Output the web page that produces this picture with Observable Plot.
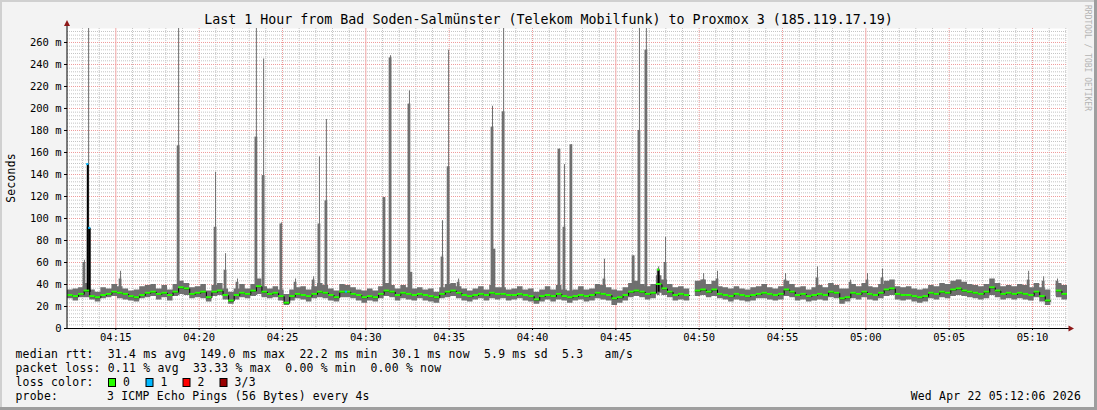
<!DOCTYPE html>
<html><head><meta charset="utf-8">
<script src="https://cdn.jsdelivr.net/npm/d3@7"></script>
<script src="https://cdn.jsdelivr.net/npm/@observablehq/plot@0.6"></script>
<style>
html,body{margin:0;padding:0;background:#f3f3f3;}
#chart{position:relative;width:1097px;height:410px;overflow:hidden;}
#chart svg{display:block;max-width:none;}
</style></head><body><div id="chart"></div>
<script>
// ---------------- data ----------------
const title = "Last 1 Hour from Bad Soden-Salmünster (Telekom Mobilfunk) to Proxmox 3 (185.119.17.19)";
const startTime = "04:12:06";
const endTime = "05:12:06";
const stepSeconds = 20;

const median = [
30,29,31,34,29,28,30,31,33,32,
31,29,28,30,32,33,31,32,30,33,
37,36,31,32,33,28,33,34,30,25,
30,32,31,34,38,33,31,32,29,23,
29,31,30,29,31,33,32,30,28,33,
33,31,30,28,29,28,31,34,33,30,
32,31,30,31,30,29,28,31,33,34,
32,30,29,30,31,30,32,31,31,30,
30,31,30,29,26,29,30,29,31,29,
28,29,30,29,30,32,31,30,27,28,
30,33,34,33,31,32,40,36,33,30,
31,30,null,34,35,33,35,31,30,29,
31,30,29,30,31,32,31,30,31,35,
33,30,31,29,30,31,30,33,32,27,
28,32,31,33,31,30,32,35,36,31,
30,30,29,28,29,32,31,33,32,35,
36,34,33,32,31,33,37,34,31,32,
31,32,31,30,33,29,25,null,34,31];

const smokeLow = [
27,25,28,28,26,24,27,28,29,27,
26,25,24,27,28,29,26,28,25,29,
31,30,27,28,27,24,29,30,26,22,
26,28,27,29,31,28,27,28,25,21,
25,27,26,24,27,28,27,25,24,28,
28,27,25,23,25,24,27,29,28,25,
27,26,25,27,25,24,23,27,28,29,
27,25,24,26,27,25,27,26,27,25,
26,27,25,24,22,24,26,24,26,25,
23,25,26,24,25,27,26,25,21,23,
25,28,29,28,26,27,32,30,28,25,
26,25,null,29,30,28,29,27,26,24,
26,25,24,25,27,27,26,25,26,29,
28,25,26,24,25,26,25,28,27,22,
24,27,26,28,26,25,27,29,30,26,
25,26,24,23,24,27,26,28,27,29,
30,29,28,27,26,27,30,28,26,27,
26,27,26,25,28,24,21,null,28,26];

const smokeHigh = [
35,36,37,41,35,33,37,36,40,38,
36,34,35,38,39,40,36,39,35,40,
43,41,37,38,40,34,39,41,36,33,
36,40,36,40,45,38,36,38,35,31,
35,37,38,35,38,41,39,36,34,40,
39,37,35,34,36,34,38,41,39,36,
39,37,36,37,35,36,33,37,40,41,
38,36,34,36,38,35,39,37,37,35,
36,38,35,36,33,35,38,35,39,35,
34,35,38,35,36,40,39,37,35,34,
37,41,43,40,38,40,48,44,40,37,
38,36,null,43,44,40,43,38,37,36,
38,36,35,37,38,40,37,36,38,43,
40,37,38,35,37,39,37,41,39,36,
36,40,38,41,38,37,40,43,44,38,
37,38,36,35,36,39,38,41,40,43,
44,42,40,39,38,40,45,41,38,39,
38,40,39,37,41,37,35,null,41,39];

// single-ping outliers: time, highest ping, second ping
const spikeTimes = ["04:13:07","04:13:22","04:15:17","04:18:46","04:20:59","04:21:35","04:22:18","04:23:26","04:23:52","04:24:56",
"04:25:47","04:26:52","04:27:13","04:27:38","04:31:07","04:31:29","04:32:37","04:32:44","04:34:36","04:34:58",
"04:35:34","04:37:36","04:37:43","04:38:16","04:41:37","04:41:55","04:42:20","04:44:19","04:46:04","04:46:25",
"04:46:50","04:47:34","04:47:59","04:50:16","04:51:06","04:55:11","04:57:06","04:59:05","05:00:06","05:01:00",
"05:09:46","05:10:40","05:11:30"];
const spikeTop = [62,280,52,280,142,68,45,280,245,96, 45,47,156,190,119,248,216,51,98,253, 45,202,72,280,163,149,167,63,66,280, 280,56,83,50,52,50,56,44,50,54, 52,47,45];
const spikeSecond = [60,92,45,166,92,53,42,174,139,95, 42,44,95,116,119,246,204,51,65,147, 42,183,72,197,163,92,167,45,66,180, 253,54,60,44,45,44,46,42,44,46, 44,43,43];

// median excursions and their loss count
const peakTimes = ["04:13:19","04:13:26","04:28:50","04:47:34"];
const peakValues = [149,91,33,53];
const peakLoss = [1,1,1,0];

const xTickLabels = ["04:15","04:20","04:25","04:30","04:35","04:40","04:45","04:50","04:55","05:00","05:05","05:10"];
const yTickValues = [0,20,40,60,80,100,120,140,160,180,200,220,240,260];
const yMax = 272.7;

const lossLabels = ["0","1","2","3/3"];
const lossColors = ["#26ff00","#00b8ff","#ff0000","#990000"];
const rttLabel = "median rtt:";
const rttStats = ["31.4 ms avg","149.0 ms max","22.2 ms min","30.1 ms now","5.9 ms sd","5.3"];
const rttUnit = "am/s";
const lossLabel = "packet loss:";
const lossStats = ["0.11 % avg","33.33 % max","0.00 % min","0.00 % now"];
const colorLabel = "loss color:";
const probeLabel = "probe:";
const probeText = "3 ICMP Echo Pings (56 Bytes) every 4s";
const dateText = "Wed Apr 22 05:12:06 2026";
const yLabel = "Seconds";
const watermark = "RRDTOOL / TOBI OETIKER";

// ---------------- build ----------------
const parseT = s => { const [h,m,sec] = s.split(":").map(Number); return new Date(Date.UTC(2026,3,22,h,m,sec||0)); };
const T0 = parseT(startTime), T1 = parseT(endTime);
const sec = (d, s) => new Date(+d + s*1000);

const rows = median.map((m,i) => ({t0: sec(T0, i*stepSeconds), t1: sec(T0, (i+1)*stepSeconds), m, lo: smokeLow[i], hi: smokeHigh[i]}));
const smokePts = rows.flatMap(d => d.lo == null ? [{t: d.t0, lo: NaN, hi: NaN}] : [{t: d.t0, lo: d.lo, hi: d.hi}, {t: d.t1, lo: d.lo, hi: d.hi}]);
const medPts = rows.flatMap(d => d.m == null ? [{t: d.t0, m: NaN}] : [{t: d.t0, m: d.m}, {t: d.t1, m: d.m}]);
const spikes = spikeTimes.map((s,i) => ({t: parseT(s), top: spikeTop[i], second: spikeSecond[i]}));
const peaks = peakTimes.map((s,i) => ({t: parseT(s), v: peakValues[i], loss: peakLoss[i]}));

const xTicks = xTickLabels.map(parseT);
const minuteGrid = d3.utcMinute.range(d3.utcMinute.ceil(T0), T1).filter(d => d.getUTCMinutes() % 5 !== 0);
const fiveGrid = d3.utcMinute.every(5).range(d3.utcMinute.ceil(T0), T1).filter(d => d.getUTCMinutes() % 15 !== 0);
const quarterGrid = d3.utcMinute.every(15).range(d3.utcMinute.ceil(T0), T1);
const yMinor = d3.range(0, yMax, 20/6).filter(v => Math.abs(v/20 - Math.round(v/20)) > 0.01);
const yMajor = yTickValues.filter(v => v > 0);

const GREY = "#6f6f6f";
const FONT = "DejaVu Sans Mono";

const chart = Plot.plot({
  width: 1097, height: 410,
  marginLeft: 67, marginRight: 30, marginTop: 28, marginBottom: 82,
  style: {background: "#f3f3f3", fontFamily: FONT, fontSize: "10.5px", color: "#000", overflow: "visible"},
  x: {type: "utc", domain: [T0, T1]},
  y: {domain: [0, yMax]},
  marks: [
    Plot.frame({fill: "#ffffff", stroke: null}),
    Plot.ruleX(minuteGrid, {stroke: "#c4c4c4", strokeDasharray: "1,1"}),
    Plot.ruleY(yMinor, {stroke: "#c4c4c4", strokeDasharray: "1,1"}),
    Plot.ruleX(fiveGrid, {stroke: "#ee9a9a", strokeDasharray: "1,1"}),
    Plot.ruleX(quarterGrid, {stroke: "#f2a6a6"}),
    Plot.ruleY(yMajor, {stroke: "#ee9a9a", strokeDasharray: "1,1"}),
    Plot.areaY(smokePts, {x: "t", y1: "lo", y2: "hi", fill: GREY, clip: true}),
    Plot.ruleX(spikes, {x: "t", y1: 30, y2: "top", stroke: GREY, strokeWidth: 1, clip: true}),
    Plot.rect(spikes, {x1: d => sec(d.t, -5), x2: d => sec(d.t, 5), y1: 30, y2: "second", fill: GREY, clip: true}),
    Plot.line(medPts, {x: "t", y: "m", stroke: "#000", strokeWidth: 1, clip: true}),
    Plot.ruleX(peaks, {x: "t", y1: 33, y2: "v", stroke: "#000", strokeWidth: 2, clip: true}),
    Plot.rect(rows.filter(d => d.m != null), {x1: "t0", x2: "t1", y1: d => d.m - 0.9, y2: d => d.m + 0.9, fill: lossColors[0], clip: true}),
    Plot.rect(peaks, {x1: d => sec(d.t, -4), x2: d => sec(d.t, 4), y1: d => d.v - 0.9, y2: d => d.v + 0.9, fill: d => lossColors[d.loss], clip: true}),
    Plot.axisY(yTickValues, {tickFormat: d => d === 0 ? "0" : d + " m", tickSize: 3, tickPadding: 3, label: null, fontSize: 10.5, fill: "#000"}),
    Plot.axisX(xTicks, {tickFormat: d3.utcFormat("%H:%M"), tickSize: 2, tickPadding: 3, label: null, fontSize: 10.5, fill: "#000"})
  ]
});
document.getElementById("chart").appendChild(chart);

// ---------------- decorations ----------------
const svg = d3.select(chart);
const xs = chart.scale("x"), ys = chart.scale("y");
const xL = xs.apply(T0), xR = xs.apply(T1), yB = ys.apply(0), yT = ys.apply(yMax);

// axes lines with arrows
svg.append("line").attr("x1", xL).attr("x2", xL).attr("y1", yT - 2).attr("y2", yB + 0.5).attr("stroke", "#000");
svg.append("line").attr("x1", xL - 0.5).attr("x2", xR + 2).attr("y1", yB + 0.5).attr("y2", yB + 0.5).attr("stroke", "#000");
svg.append("path").attr("d", `M${xL-3},${yT-2}L${xL+3},${yT-2}L${xL},${yT-8}Z`).attr("fill", "#8e1818");
svg.append("path").attr("d", `M${xR+1.5},${yB-2.5}L${xR+1.5},${yB+3.5}L${xR+7},${yB+0.5}Z`).attr("fill", "#8e1818");

// title
svg.append("text").attr("x", 548.5).attr("y", 24).attr("text-anchor", "middle")
  .attr("font-family", FONT).attr("font-size", "13.3px").attr("fill", "#000").text(title);

// legend font
const LG_SIZE = "11.4px", LG_SPACING = "0.24px";

// y label
svg.append("text").attr("transform", `translate(14.5,${(yT + yB) / 2}) rotate(-90)`).attr("text-anchor", "middle")
  .attr("font-family", FONT).attr("font-size", LG_SIZE).attr("letter-spacing", LG_SPACING).attr("fill", "#000").text(yLabel);

// watermark
svg.append("text").attr("transform", "translate(1085,5) rotate(90)").attr("text-anchor", "start")
  .attr("font-family", FONT).attr("font-size", "8px").attr("fill", "#b4b4b4").text(watermark);

// legend
const lg = svg.append("g").attr("font-family", FONT).attr("font-size", LG_SIZE).attr("letter-spacing", LG_SPACING).attr("fill", "#000");
const addText = (x, y, s, anchor) => lg.append("text").attr("x", x).attr("y", y).attr("text-anchor", anchor || "start").style("white-space", "pre").text(s);
addText(15.5, 358, rttLabel + "  " + rttStats.join("  ") + "   " + rttUnit);
addText(15.5, 372, lossLabel + " " + lossStats.join("  "));
addText(15.5, 386, colorLabel);
[108, 145.5, 182.5, 219.5].forEach((x, i) => {
  lg.append("rect").attr("x", x + 0.5).attr("y", 378.5).attr("width", 7).attr("height", 8)
    .attr("fill", lossColors[i]).attr("stroke", "#000").attr("stroke-width", 1);
  addText(x + 15, 386, lossLabels[i]);
});
addText(15.5, 400, probeLabel);
addText(107, 400, probeText);
addText(1081, 400, dateText, "end");

// 3D border
svg.append("rect").attr("x", 0).attr("y", 0).attr("width", 1097).attr("height", 2).attr("fill", "#d0d0d0");
svg.append("rect").attr("x", 0).attr("y", 0).attr("width", 2).attr("height", 410).attr("fill", "#d0d0d0");
svg.append("rect").attr("x", 0).attr("y", 407).attr("width", 1097).attr("height", 3).attr("fill", "#9e9e9e");
svg.append("rect").attr("x", 1094).attr("y", 0).attr("width", 3).attr("height", 410).attr("fill", "#9e9e9e");
</script>
</body></html>
